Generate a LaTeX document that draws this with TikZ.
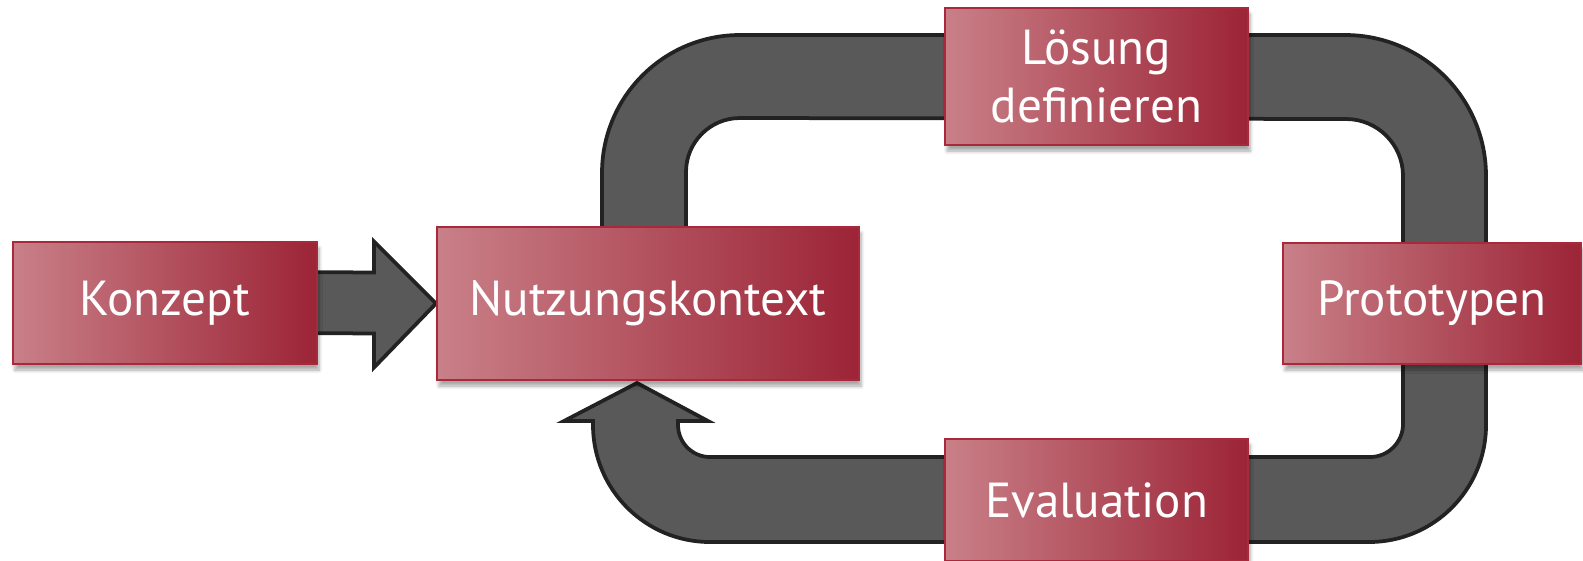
\documentclass[tikz,border=0pt]{standalone}
\usepackage{fontspec}
\setmainfont{PT Sans}
\usetikzlibrary{positioning,calc,shadows.blur,backgrounds}
\definecolor{boxlight}{HTML}{C98088}
\definecolor{boxmid}{HTML}{BE5E69}
\definecolor{boxdark}{HTML}{9C2436}
\definecolor{boxedge}{HTML}{A8283C}
\definecolor{bandgray}{HTML}{595959}
\definecolor{bandedge}{HTML}{222222}

\begin{document}
\begin{tikzpicture}[x=0.2mm, y=-0.2mm, step node/.style={rectangle,draw=boxedge,line width=0.4mm,left color=boxlight,middle color=boxmid,right color=boxdark,text=white,font=\fontsize{28}{33}\selectfont,align=center,inner sep=0pt,blur shadow={shadow xshift=0.4mm,shadow yshift=-1.2mm,shadow opacity=35,shadow blur steps=6}}, band/.style={fill=bandgray,draw=bandedge,line width=0.75mm}]
\useasboundingbox (0,0) rectangle (1583,560);
\begin{scope}
\node[step node, minimum width=60.8mm, minimum height=24.4mm] (konzept) at (165,303) {Konzept};
\node[step node, minimum width=84.4mm, minimum height=30.6mm] (kontext) at (648,303.5) {Nutzungskontext};
\node[step node, minimum width=60.6mm, minimum height=27.4mm] (loesung) at (1096.5,76.5) {Lösung\\definieren};
\node[step node, minimum width=59.6mm, minimum height=24.2mm] (proto) at (1432,303.5) {Prototypen};
\node[step node, minimum width=60.6mm, minimum height=24.4mm] (eval) at (1096.5,500) {Evaluation};
%\node[step node] () at (,) {};
\end{scope}
\begin{scope}[on background layer]
% loop
\draw[band] (602,300) -- (602,173) arc[start angle=180, end angle=270, radius=138]
  -- (1345,35) arc[start angle=270, end angle=360, radius=141]
  -- (1486,425) arc[start angle=0, end angle=90, radius=117]
  -- (710,542) arc[start angle=90, end angle=180, radius=117]
  -- (593,421) -- (564,421) -- (637,383) -- (708,421) -- (678,421)
  -- (678,425) arc[start angle=180, end angle=90, radius=32]
  -- (1370,457) arc[start angle=90, end angle=0, radius=33]
  -- (1403,176) arc[start angle=0, end angle=-90, radius=57]
  -- (740,118) arc[start angle=270, end angle=180, radius=54]
  -- (686,300) -- cycle;
% konzept -> kontext
\draw[band] ($(konzept.east)+(-20,-31)$) -- ($(kontext.west)+(-62,-31)$)
  -- ($(kontext.west)+(-62,-62)$) -- (kontext.west)
  -- ($(kontext.west)+(-62,64)$) -- ($(kontext.west)+(-62,30)$)
  -- ($(konzept.east)+(-20,30)$) -- cycle;
\end{scope}
\end{tikzpicture}
\end{document}
